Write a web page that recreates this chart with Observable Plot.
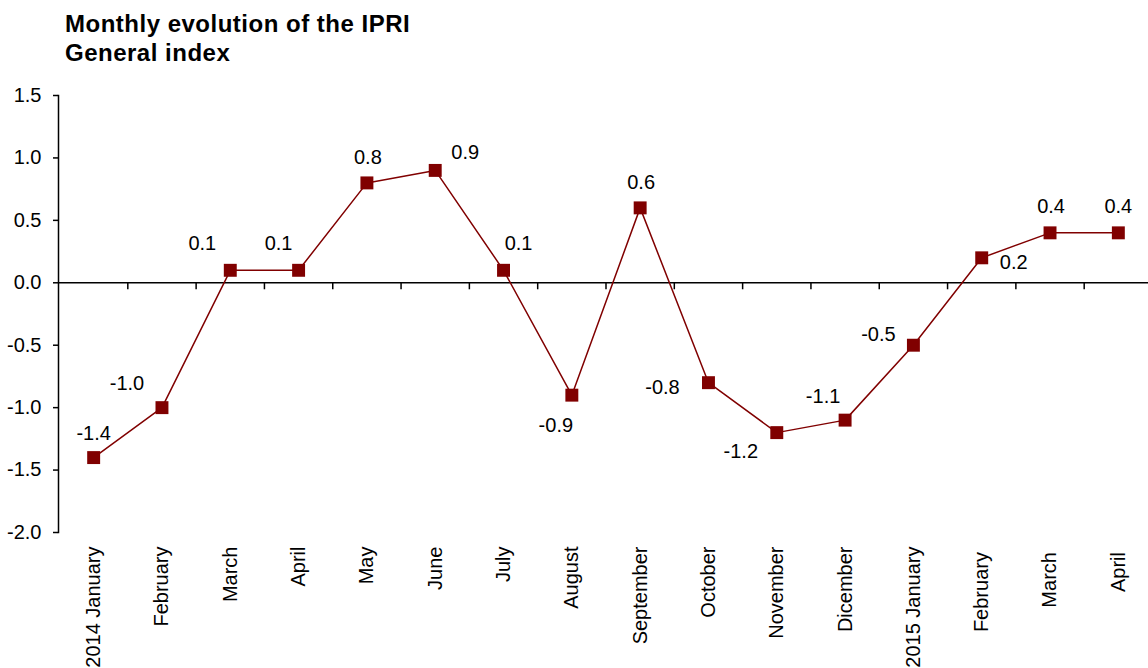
<!DOCTYPE html>
<html>
<head>
<meta charset="utf-8">
<script src="https://cdn.jsdelivr.net/npm/d3@7"></script>
<script src="https://cdn.jsdelivr.net/npm/@observablehq/plot@0.6"></script>
<style>
  html, body { margin: 0; padding: 0; background: #fff; }
  body { width: 1148px; height: 668px; overflow: hidden; font-family: "Liberation Sans", Arial, sans-serif; }
  #title { height: 75px; box-sizing: border-box; padding: 9px 0 0 65px; font-size: 24px; letter-spacing: 0.5px; font-weight: bold; line-height: 29px; color: #000; }
  #chart svg { display: block; }
</style>
</head>
<body>
<div id="title">Monthly evolution of the IPRI<br>General index</div>
<div id="chart"></div>
<script>
// ---- data ----
const months = ["2014 January", "February", "March", "April", "May", "June", "July", "August",
  "September", "October", "November", "Dicember", "2015 January", "February ", "March ", "April "];
const values = [-1.4, -1.0, 0.1, 0.1, 0.8, 0.9, 0.1, -0.9, 0.6, -0.8, -1.2, -1.1, -0.5, 0.2, 0.4, 0.4];
const yTicks = [-2.0, -1.5, -1.0, -0.5, 0.0, 0.5, 1.0, 1.5];

// label placement (pixel offsets from each point)
const labelOffsets = [[0,-24],[-35,-24],[-28,-27],[-20,-27],[1,-25],[30,-18],[15,-27],[-16,30],
  [1,-25],[-46,5],[-36,19],[-22,-24],[-35,-11],[32,5],[1,-26],[0,-26]];

const data = months.map((m, i) => ({month: m, value: values[i]}));
const fmt = v => v.toFixed(1);
const red = "#800000";
const W = 1148, H = 593;
const step = (1152 - 59) / months.length;

const labelMarks = data.map((d, i) => Plot.text([d], {
  x: "month", y: "value", text: d => fmt(d.value),
  dx: labelOffsets[i][0], dy: labelOffsets[i][1], fontSize: 20, fill: "#000"
}));

const chart = Plot.plot({
  width: W,
  height: H,
  marginLeft: 58,
  marginRight: 0,
  marginTop: 20,
  marginBottom: 136,
  style: {fontFamily: "'Liberation Sans', Arial, sans-serif", color: "#000", background: "#fff"},
  x: {type: "point", domain: months, range: [59, 1152], padding: 0.5, align: 0.5, round: false},
  y: {domain: [-2, 1.5], range: [457, 20]},
  marks: [
    Plot.frame({anchor: "left", stroke: "#000", strokeWidth: 1.5}),
    Plot.axisY({ticks: yTicks, tickFormat: fmt, tickSize: 5, tickPadding: 12, fontSize: 20, strokeWidth: 1.5, label: null}),
    Plot.axisX({tickSize: 0, tickRotate: -90, tickPadding: 14, fontSize: 20, label: null}),
    Plot.ruleY([0], {stroke: "#000", strokeWidth: 1.5}),
    Plot.ruleX(months.slice(1), {x: d => d, y1: 0, y2: -0.056, dx: -step / 2, stroke: "#000", strokeWidth: 1.5}),
    Plot.line(data, {x: "month", y: "value", stroke: red, strokeWidth: 1.5}),
    Plot.dot(data, {x: "month", y: "value", symbol: "square", r: 7.3, fill: red, stroke: null}),
    ...labelMarks
  ]
});
document.getElementById("chart").appendChild(chart);
</script>
</body>
</html>
